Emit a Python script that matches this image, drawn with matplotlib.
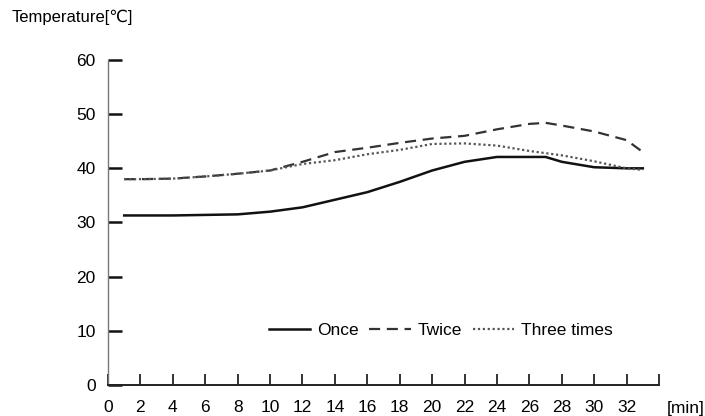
import numpy as np
import matplotlib
matplotlib.use("Agg")
import matplotlib.pyplot as plt

plt.rcParams['font.family'] = ['Liberation Sans', 'DejaVu Sans']

# time in minutes
t_once = [1, 2, 4, 6, 8, 10, 12, 14, 16, 18, 20, 22, 24, 26, 27, 28, 30, 32, 33]
once = [31.3, 31.3, 31.3, 31.4, 31.5, 32.0, 32.8, 34.2, 35.6, 37.5, 39.6, 41.2,
        42.1, 42.1, 42.1, 41.2, 40.2, 40.0, 40.0]

t_twice = [1, 2, 4, 6, 8, 10, 12, 14, 16, 18, 20, 22, 24, 26, 27, 28, 30, 32, 33]
twice = [38.0, 38.0, 38.1, 38.5, 39.0, 39.6, 41.2, 43.0, 43.8, 44.7, 45.5, 46.0,
         47.2, 48.2, 48.4, 47.9, 46.8, 45.2, 43.0]

t_three = [1, 2, 4, 6, 8, 10, 12, 14, 16, 18, 20, 22, 24, 26, 28, 30, 32, 33]
three = [38.0, 38.0, 38.1, 38.5, 39.0, 39.6, 40.8, 41.5, 42.6, 43.4, 44.5, 44.6,
         44.2, 43.2, 42.4, 41.3, 40.0, 39.7]

x_ticks = list(range(0, 35, 2))
x_labels = [str(v) for v in range(0, 33, 2)] + ['']
y_ticks = [0, 10, 20, 30, 40, 50, 60]

fig = plt.figure(figsize=(7.05, 4.16), dpi=100)
ax = fig.add_axes([0.1532, 0.0745, 0.7816, 0.7813])

ax.plot(t_once, once, color='#111111', lw=1.8, ls='-', label='Once')
ax.plot(t_twice, twice, color='#333333', lw=1.6, ls=(0, (5, 3)), label='Twice')
ax.plot(t_three, three, color='#555555', lw=1.6, ls=(0, (1, 1.2)), label='Three times')

ax.set_xlim(0, 34)
ax.set_ylim(0, 60)
ax.set_xticks(x_ticks)
ax.set_xticklabels(x_labels)
ax.set_yticks(y_ticks)

for s in ['top', 'right']:
    ax.spines[s].set_visible(False)
ax.spines['left'].set_color('#777777')
ax.spines['left'].set_linewidth(1.0)
ax.spines['bottom'].set_color('#222222')
ax.spines['bottom'].set_linewidth(1.4)

ax.tick_params(axis='y', direction='in', length=10, width=1.8, pad=9,
               labelsize=12.5, color='#111111')
ax.tick_params(axis='x', direction='in', length=8, width=1.2, pad=11,
               labelsize=12.5, color='#111111')

leg = ax.legend(loc='center', bbox_to_anchor=(0.604, 0.169), ncol=3,
                frameon=False, fontsize=12.5, handlelength=2.4,
                handletextpad=0.4, columnspacing=0.6)

fig.text(12 / 705, 1 - 17 / 416, 'Temperature[℃]', fontsize=12,
         ha='left', va='center')
fig.text(667 / 705, 1 - 408 / 416, '[min]', fontsize=12.5,
         ha='left', va='center')

fig.savefig('out.png', dpi=100)
